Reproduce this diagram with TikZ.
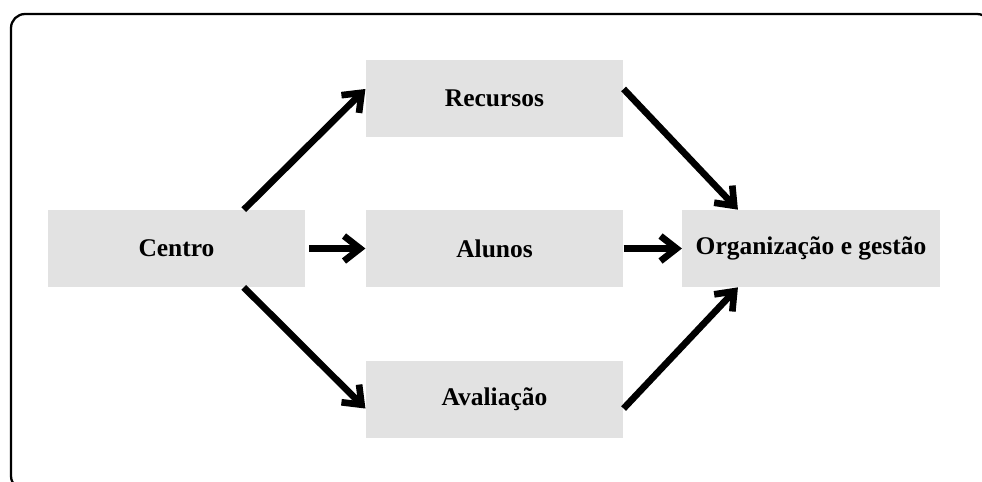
\documentclass[tikz,border=0pt]{standalone}
\usepackage{fontspec}
\setmainfont{Liberation Serif}
\usetikzlibrary{arrows.meta}
\definecolor{boxgray}{RGB}{226,226,226}
\tikzset{
	box/.style={fill=boxgray, minimum width=5.15cm, minimum height=1.54cm, inner sep=0pt,
		font=\fontsize{14.5}{17}\selectfont\bfseries},
	flow/.style={line width=3.8pt, -{Straight Barb[length=3.2mm, width=5mm]}}
}

\begin{document}
\begin{tikzpicture}[x=0.02cm, y=-0.02cm]
			%%%%% START %%%%%
			
			\useasboundingbox (0, 0) rectangle (982, 481);
			\draw[line width=1.3pt, rounded corners=8pt] (11, 14) rectangle (991, 490);
			
			\node[box] (centro) at (176.5, 248.5) {Centro};
			\node[box] (recursos) at (494.5, 98) {Recursos};
			\node[box] (alunos) at (494.5, 248.5) {Alunos};
			\node[box] (avaliacao) at (494.5, 399.5) {Avaliação};
			\node[box] (org) at (811, 248.5) {Organização e gestão};
			
			\draw[flow] (centro.30) -- (recursos.176);
			\draw[flow] ([xshift=2pt]centro.east) -- (alunos.west);
			\draw[flow] (centro.-30) -- (avaliacao.184);
			
			\draw[flow] (recursos.4) -- (org.152);
			\draw[flow] (alunos.east) -- (org.west);
			\draw[flow] (avaliacao.-4) -- (org.208);
			
			%%%%% END %%%%%
		\end{tikzpicture}
\end{document}
